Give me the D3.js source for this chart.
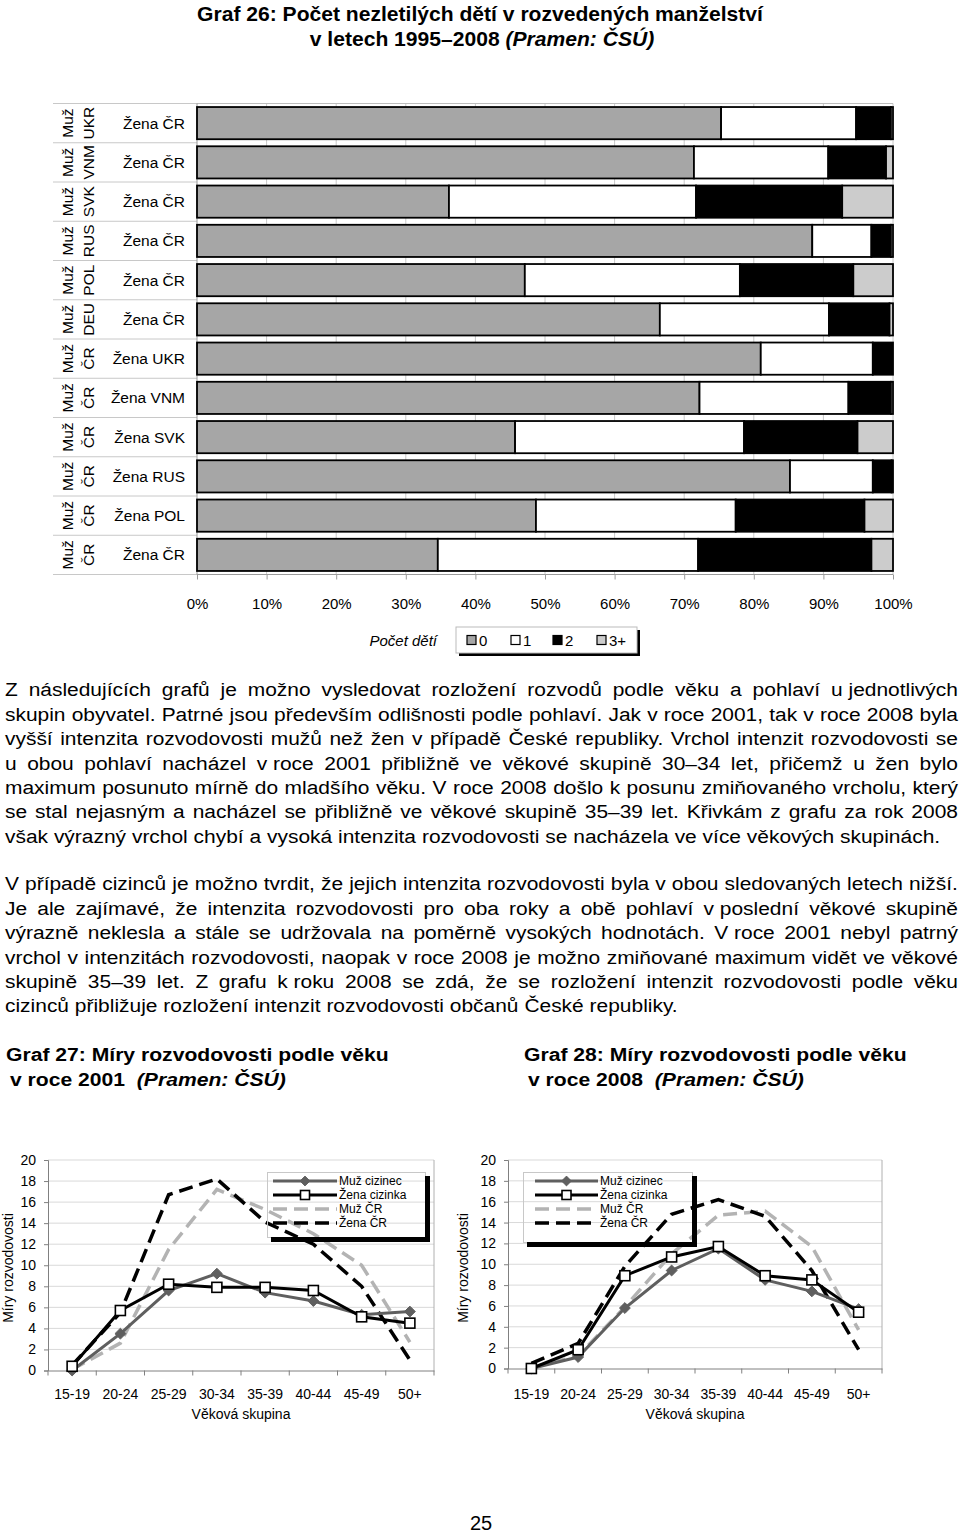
<!DOCTYPE html>
<html><head><meta charset="utf-8">
<script src="https://cdn.jsdelivr.net/npm/d3@7"></script>
<style>body{margin:0;background:#fff} svg{display:block}</style>
</head><body><svg id="c" width="960" height="1535"></svg>
<script>
// ---------- DATA ----------
const outerTop = ["Muž","Muž","Muž","Muž","Muž","Muž","Muž","Muž","Muž","Muž","Muž","Muž"];
const outerBottom = ["UKR","VNM","SVK","RUS","POL","DEU","ČR","ČR","ČR","ČR","ČR","ČR"];
const innerCats = ["Žena ČR","Žena ČR","Žena ČR","Žena ČR","Žena ČR","Žena ČR","Žena UKR","Žena VNM","Žena SVK","Žena RUS","Žena POL","Žena ČR"];
const kids0 = [75.3, 71.4, 36.2, 88.4, 47.1, 66.5, 81.0, 72.2, 45.7, 85.2, 48.7, 34.6];
const kids1 = [19.4, 19.3, 35.5, 8.5, 30.9, 24.3, 16.1, 21.4, 32.9, 11.9, 28.7, 37.4];
const kids2 = [5.0, 8.3, 21.0, 2.8, 16.3, 8.7, 2.9, 6.1, 16.3, 2.7, 18.5, 24.9];
const kids3 = [0.3, 1.0, 7.3, 0.3, 5.7, 0.5, 0.0, 0.3, 5.1, 0.2, 4.1, 3.1];
const kidKeys = ["0","1","2","3+"];
const pctTicks = [0,10,20,30,40,50,60,70,80,90,100];

const ageGroups = ["15-19","20-24","25-29","30-34","35-39","40-44","45-49","50+"];
const rateTicks = [0,2,4,6,8,10,12,14,16,18,20];
const seriesNames = ["Muž cizinec","Žena cizinka","Muž ČR","Žena ČR"];
const muzCiz2001 = [0.0, 3.5, 7.6, 9.2, 7.4, 6.6, 5.3, 5.6];
const zenaCiz2001 = [0.4, 5.7, 8.2, 7.9, 7.9, 7.6, 5.1, 4.5];
const muzCR2001 = [0.1, 2.6, 11.5, 17.2, 15.3, 13.0, 10.0, 2.7];
const zenaCR2001 = [0.5, 5.5, 16.7, 18.2, 14.1, 12.0, 8.0, 1.0];
const muzCiz2008 = [0.0, 1.1, 5.8, 9.4, 11.5, 8.5, 7.4, 5.7];
const zenaCiz2008 = [0.0, 1.8, 8.9, 10.7, 11.7, 8.9, 8.5, 5.4];
const muzCR2008 = [0.1, 1.2, 5.9, 11.0, 14.7, 15.1, 11.7, 3.7];
const zenaCR2008 = [0.5, 2.4, 9.8, 14.8, 16.2, 14.6, 9.4, 1.8];

const para1 = [
 "Z následujících grafů je možno vysledovat rozložení rozvodů podle věku a pohlaví u\u00A0jednotlivých",
 "skupin obyvatel. Patrné jsou především odlišnosti podle pohlaví. Jak v roce 2001, tak v roce 2008 byla",
 "vyšší intenzita rozvodovosti mužů než žen v případě České republiky. Vrchol intenzit rozvodovosti se",
 "u obou pohlaví nacházel v\u00A0roce 2001 přibližně ve věkové skupině 30–34 let, přičemž u žen bylo",
 "maximum posunuto mírně do mladšího věku. V roce 2008 došlo k posunu zmiňovaného vrcholu, který",
 "se stal nejasným a nacházel se přibližně ve věkové skupině 35–39 let. Křivkám z grafu za rok 2008",
 "však výrazný vrchol chybí a vysoká intenzita rozvodovosti se nacházela ve více věkových skupinách."
];
const para2 = [
 "V případě cizinců je možno tvrdit, že jejich intenzita rozvodovosti byla v obou sledovaných letech nižší.",
 "Je ale zajímavé, že intenzita rozvodovosti pro oba roky a obě pohlaví v\u00A0poslední věkové skupině",
 "výrazně neklesla a stále se udržovala na poměrně vysokých hodnotách. V\u00A0roce 2001 nebyl patrný",
 "vrchol v intenzitách rozvodovosti, naopak v roce 2008 je možno zmiňované maximum vidět ve věkové",
 "skupině 35–39 let. Z grafu k\u00A0roku 2008 se zdá, že se rozložení intenzit rozvodovosti podle věku",
 "cizinců přibližuje rozložení intenzit rozvodovosti občanů České republiky."
];

// ---------- HELPERS ----------
const svg = d3.select("#c");
const SANS = "'Liberation Sans', Arial, Helvetica, sans-serif";
const NARROW = "'Liberation Sans Narrow','Arial Narrow','Liberation Sans',Arial,sans-serif";
function tw(str, font, size, weight, style) {
  const t = svg.append("text").attr("font-family", font).attr("font-size", size)
    .attr("font-weight", weight || "normal").attr("font-style", style || "normal")
    .style("white-space", "pre").text(str);
  const w = t.node().getComputedTextLength(); t.remove(); return w;
}

// ---------- TITLE 26 ----------
{
  const t1 = "Graf 26: Počet nezletilých dětí v rozvedených manželství";
  const fs = 19 * 566 / tw(t1, SANS, 19, "bold");
  svg.append("text").attr("x", 480).attr("y", 21).attr("text-anchor", "middle")
    .attr("font-family", SANS).attr("font-size", fs).attr("font-weight", "bold").text(t1);
  const t2 = svg.append("text").attr("x", 482).attr("y", 46).attr("text-anchor", "middle")
    .attr("font-family", SANS).attr("font-size", fs).attr("font-weight", "bold").style("white-space","pre");
  t2.append("tspan").text("v letech 1995–2008 ");
  t2.append("tspan").attr("font-style", "italic").text("(Pramen: ČSÚ)");
}

// ---------- TOP STACKED BAR CHART ----------
{
  const x = d3.scaleLinear().domain([0, 100]).range([197, 893]);
  const y = d3.scaleBand().domain(d3.range(innerCats.length)).range([103.5, 574.5])
    .paddingInner(0.18).paddingOuter(0.09);
  const step = (574.5 - 103.5) / innerCats.length;
  const colors = d3.scaleOrdinal().domain(kidKeys).range(["#a6a6a6", "#ffffff", "#000000", "#cccccc"]);
  const rows = innerCats.map((c, i) => ({ i, "0": kids0[i], "1": kids1[i], "2": kids2[i], "3+": kids3[i] }));
  const stacked = d3.stack().keys(kidKeys)(rows);

  const g = svg.append("g");
  g.selectAll("line.grid").data(pctTicks.slice(1)).join("line")
    .attr("x1", d => x(d)).attr("x2", d => x(d)).attr("y1", 103.5).attr("y2", 574.5)
    .attr("stroke", "#c8c8c8").attr("stroke-width", 1);
  g.append("line").attr("x1", 53).attr("x2", 893).attr("y1", 103.5).attr("y2", 103.5)
    .attr("stroke", "#bdbdbd");
  g.selectAll("line.sep").data(d3.range(innerCats.length + 1)).join("line")
    .attr("x1", 53).attr("x2", 197)
    .attr("y1", d => 103.5 + d * step).attr("y2", d => 103.5 + d * step)
    .attr("stroke", "#c8c8c8");
  const ax = g.append("g").attr("transform", "translate(0,574.5)")
    .call(d3.axisBottom(x).tickValues(pctTicks).tickSize(5).tickFormat(d => d + "%"));
  ax.select(".domain").attr("stroke", "#9a9a9a").attr("d", "M197,0H893");
  ax.selectAll(".tick line").attr("stroke", "#9a9a9a");
  ax.selectAll("text").attr("font-family", SANS).attr("font-size", 15).attr("fill", "#000")
    .attr("y", 34).attr("dy", 0);
  g.append("line").attr("x1", 197).attr("x2", 197).attr("y1", 103.5).attr("y2", 574.5).attr("stroke", "#9a9a9a");

  stacked.forEach(s => {
    g.append("g").selectAll("rect").data(s).join("rect")
      .attr("x", d => x(d[0])).attr("width", d => Math.max(0, x(d[1]) - x(d[0])))
      .attr("y", (d, i) => y(i)).attr("height", y.bandwidth())
      .attr("fill", colors(s.key)).attr("stroke", "#000").attr("stroke-width", 1.8);
  });

  innerCats.forEach((c, i) => {
    const cy = y(i) + y.bandwidth() / 2;
    g.append("text").attr("x", 185).attr("y", cy + 5.5).attr("text-anchor", "end")
      .attr("font-family", SANS).attr("font-size", 15.5).text(c);
    g.append("text").attr("transform", `translate(73,${cy}) rotate(-90)`).attr("text-anchor", "middle")
      .attr("font-family", SANS).attr("font-size", 15.5).text(outerTop[i]);
    g.append("text").attr("transform", `translate(93.5,${cy}) rotate(-90)`).attr("text-anchor", "middle")
      .attr("font-family", SANS).attr("font-size", 15.5).text(outerBottom[i]);
  });

  const lg = svg.append("g");
  lg.append("rect").attr("x", 459).attr("y", 630).attr("width", 181).attr("height", 26).attr("fill", "#000");
  lg.append("rect").attr("x", 456).attr("y", 627).attr("width", 181).attr("height", 26)
    .attr("fill", "#fff").attr("stroke", "#bbb").attr("stroke-width", 1);
  const lx = [467, 511, 553, 597];
  kidKeys.forEach((k, i) => {
    lg.append("rect").attr("x", lx[i]).attr("y", 635.5).attr("width", 9).attr("height", 9)
      .attr("fill", colors(k)).attr("stroke", "#000").attr("stroke-width", 1.2);
    lg.append("text").attr("x", lx[i] + 12).attr("y", 646).attr("font-family", SANS)
      .attr("font-size", 15).text(k);
  });
  svg.append("text").attr("x", 437).attr("y", 646).attr("text-anchor", "end")
    .attr("font-family", SANS).attr("font-size", 15).attr("font-style", "italic").text("Počet dětí");
}

// ---------- PARAGRAPHS (justified) ----------
{
  const FS = 19;
  const natural = tw(para1[para1.length - 1], NARROW, FS);
  const s = 935 / natural;
  const avail = 953 / s;
  const spaceW = tw("a a", NARROW, FS) - tw("aa", NARROW, FS);
  const g = svg.append("g").attr("transform", `translate(5,0) scale(${s},1)`)
    .attr("font-family", NARROW).attr("font-size", FS);
  function draw(lines, y0, lh) {
    lines.forEach((ln, li) => {
      const words = ln.split(" ");
      const ws = words.map(w => tw(w, NARROW, FS));
      const sum = d3.sum(ws);
      const last = li === lines.length - 1;
      const gap = last ? spaceW : (avail - sum) / (words.length - 1);
      let cx = 0;
      words.forEach((w, wi) => {
        g.append("text").attr("x", cx).attr("y", y0 + li * lh).style("white-space","pre").text(w);
        cx += ws[wi] + gap;
      });
    });
  }
  draw(para1, 696.5, 24.4);
  draw(para2, 890.5, 24.4);
}

// ---------- GRAPH 27/28 TITLES ----------
{
  const FS = 19;
  const t1 = "Graf 27: Míry rozvodovosti podle věku";
  const s = 383 / tw(t1, NARROW, FS, "bold");
  function title(x0, a, b) {
    const g = svg.append("g").attr("transform", `translate(${x0},0) scale(${s},1)`)
      .attr("font-family", NARROW).attr("font-size", FS).attr("font-weight", "bold");
    g.append("text").attr("x", 0).attr("y", 1061).text(a);
    const t = g.append("text").attr("x", 4 / s).attr("y", 1086).style("white-space", "pre");
    t.append("tspan").text(b + "  ");
    t.append("tspan").attr("font-style", "italic").text("(Pramen: ČSÚ)");
  }
  title(6, t1, "v roce 2001");
  title(524, "Graf 28: Míry rozvodovosti podle věku", "v roce 2008");
}

// ---------- LINE CHARTS ----------
function lineChart(cfg) {
  const x = d3.scaleBand().domain(ageGroups).range([cfg.x0, cfg.x1]);
  const y = d3.scaleLinear().domain([0, 20]).range([cfg.yb, 1160]);
  const g = svg.append("g");
  g.selectAll("line.grid").data(rateTicks.slice(1)).join("line")
    .attr("x1", cfg.x0).attr("x2", cfg.x1).attr("y1", d => y(d)).attr("y2", d => y(d))
    .attr("stroke", "#d9d9d9");
  g.append("line").attr("x1", cfg.x1).attr("x2", cfg.x1).attr("y1", 1160).attr("y2", cfg.yb).attr("stroke", "#b0b0b0");
  const ay = g.append("g").attr("transform", `translate(${cfg.x0},0)`)
    .call(d3.axisLeft(y).tickValues(rateTicks).tickSize(4).tickPadding(8));
  ay.select(".domain").attr("stroke", "#808080");
  ay.selectAll(".tick line").attr("stroke", "#808080");
  ay.selectAll("text").attr("font-family", SANS).attr("font-size", 14).attr("fill", "#000");
  const axg = g.append("g").attr("transform", `translate(0,${cfg.yb})`)
    .call(d3.axisBottom(x).tickSize(0).tickPadding(0));
  axg.select(".domain").attr("stroke", "#808080");
  axg.selectAll("text").attr("font-family", SANS).attr("font-size", 14).attr("fill", "#000")
    .attr("y", 1399 - cfg.yb).attr("dy", 0);
  g.selectAll("line.xt").data(ageGroups.concat(["end"])).join("line")
    .attr("x1", (d, i) => cfg.x0 + i * x.step()).attr("x2", (d, i) => cfg.x0 + i * x.step())
    .attr("y1", cfg.yb).attr("y2", cfg.yb + 5).attr("stroke", "#808080");
  g.append("text").attr("x", (cfg.x0 + cfg.x1) / 2).attr("y", 1419).attr("text-anchor", "middle")
    .attr("font-family", SANS).attr("font-size", 14).text("Věková skupina");
  g.append("text").attr("transform", `translate(${cfg.ytx},1268) rotate(-90)`).attr("text-anchor", "middle")
    .attr("font-family", SANS).attr("font-size", 14).text("Míry rozvodovosti");

  const styles = [
    { color: "#5f5f5f", width: 3, dash: null, marker: "diamond" },
    { color: "#000", width: 3, dash: null, marker: "square" },
    { color: "#b3b3b3", width: 3.5, dash: "14,7", marker: null },
    { color: "#000", width: 3.5, dash: "14,7", marker: null }
  ];
  const line = d3.line().x((d, i) => x(ageGroups[i]) + x.bandwidth() / 2).y(d => y(d));
  [2, 3, 0, 1].forEach(si => {
    const st = styles[si];
    g.append("path").attr("d", line(cfg.series[si])).attr("fill", "none")
      .attr("stroke", st.color).attr("stroke-width", st.width)
      .attr("stroke-dasharray", st.dash).attr("stroke-linejoin", "miter");
  });
  function marker(gg, type, cx, cy, sc) {
    sc = sc || 1;
    if (type === "diamond") {
      gg.append("path").attr("d", d3.symbol(d3.symbolDiamond2, 75 * sc * sc)()).attr("transform", `translate(${cx},${cy})`)
        .attr("fill", "#5f5f5f").attr("stroke", "#5f5f5f").attr("stroke-width", 1);
    } else if (type === "square") {
      gg.append("rect").attr("x", cx - 5 * sc).attr("y", cy - 5 * sc).attr("width", 10 * sc).attr("height", 10 * sc)
        .attr("fill", "#fff").attr("stroke", "#000").attr("stroke-width", 1.6);
    }
  }
  [0, 1].forEach(si => {
    cfg.series[si].forEach((v, i) => marker(g, styles[si].marker, x(ageGroups[i]) + x.bandwidth() / 2, y(v)));
  });
  // legend (transparent box, thick black shadow on right and bottom)
  const L = cfg.legend;
  g.append("rect").attr("x", L.x + 0.5).attr("y", L.y + 0.5).attr("width", L.w).attr("height", L.h)
    .attr("fill", "none").attr("stroke", "#c8c8c8");
  g.append("rect").attr("x", L.x + L.w).attr("y", L.y + 4).attr("width", 5).attr("height", L.h + 1).attr("fill", "#000");
  g.append("rect").attr("x", L.x + 4).attr("y", L.y + L.h).attr("width", L.w + 1).attr("height", 5).attr("fill", "#000");
  seriesNames.forEach((n, i) => {
    const ly = L.y + 9 + i * 14;
    const st = styles[i];
    g.append("line").attr("x1", L.sx0).attr("x2", L.sx1).attr("y1", ly).attr("y2", ly)
      .attr("stroke", st.color).attr("stroke-width", st.width).attr("stroke-dasharray", st.dash);
    if (st.marker) marker(g, st.marker, (L.sx0 + L.sx1) / 2, ly, 0.9);
    g.append("text").attr("x", L.sx1 + 2).attr("y", ly + 4.3).attr("font-family", SANS)
      .attr("font-size", 12).text(n);
  });
}
lineChart({ x0: 48, x1: 434, yb: 1370.5, ytx: 13,
  series: [muzCiz2001, zenaCiz2001, muzCR2001, zenaCR2001],
  legend: { x: 267, y: 1172, w: 158, h: 65, sx0: 273, sx1: 337 } });
lineChart({ x0: 508, x1: 882, yb: 1368.5, ytx: 468,
  series: [muzCiz2008, zenaCiz2008, muzCR2008, zenaCR2008],
  legend: { x: 523, y: 1172, w: 169, h: 70, sx0: 535, sx1: 598 } });

// ---------- PAGE NUMBER ----------
svg.append("text").attr("x", 481).attr("y", 1530).attr("text-anchor", "middle")
  .attr("font-family", SANS).attr("font-size", 20).text("25");
</script>
</body></html>
